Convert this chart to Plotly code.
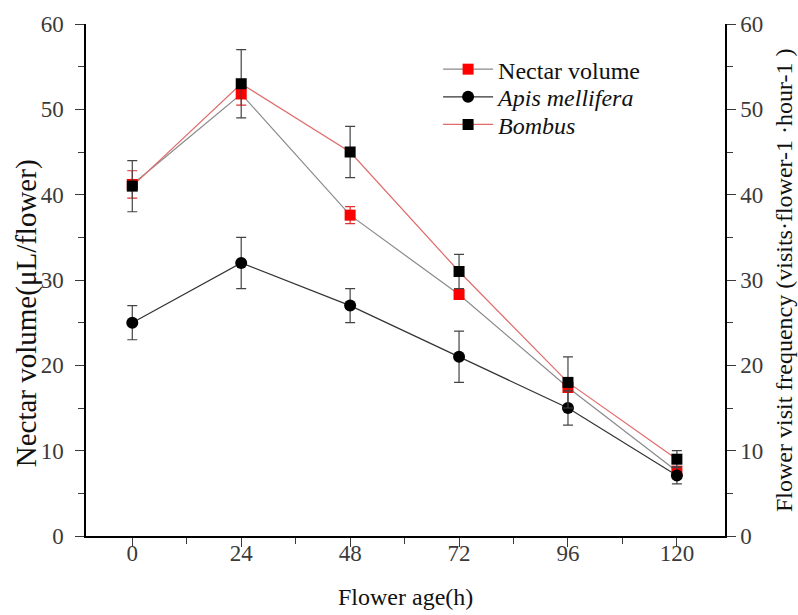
import plotly.graph_objects as go

flower_age = [0, 24, 48, 72, 96, 120]
nectar_volume = [41.2, 51.8, 37.6, 28.3, 17.4, 7.6]
nectar_err = [1.6, 1.3, 1.0, 0.5, 0.5, 0.5]
apis = [25, 32, 27, 21, 15, 7.1]
apis_err = [2, 3, 2, 3, 2, 1]
bombus = [41, 53, 45, 31, 18, 9]
bombus_err = [3, 4, 3, 2, 3, 1]

y_ticks = [0, 10, 20, 30, 40, 50, 60]
y_minor = [5, 15, 25, 35, 45, 55]
x_minor = [12, 36, 60, 84, 108]

font_family = "Liberation Serif, Times New Roman, serif"
tick_color = "#3a3a3a"

fig = go.Figure()
fig.add_trace(go.Scatter(
    x=flower_age, y=nectar_volume, name="Nectar volume", mode="lines+markers",
    line=dict(color="#8a8a8a", width=1.2),
    marker=dict(symbol="square", size=11, color="#ff0000"),
    error_y=dict(type="data", array=nectar_err, color="#e03030", thickness=1.2, width=5),
    yaxis="y", legend="legend",
))
fig.add_trace(go.Scatter(
    x=flower_age, y=apis, name="<i>Apis mellifera</i>", mode="lines+markers",
    line=dict(color="#333333", width=1.2),
    marker=dict(symbol="circle", size=12, color="#000000"),
    error_y=dict(type="data", array=apis_err, color="#444444", thickness=1.2, width=5),
    yaxis="y2", legend="legend2",
))
fig.add_trace(go.Scatter(
    x=flower_age, y=bombus, name="<i>Bombus</i>", mode="lines+markers",
    line=dict(color="#e06a6a", width=1.2),
    marker=dict(symbol="square", size=11, color="#000000"),
    error_y=dict(type="data", array=bombus_err, color="#444444", thickness=1.2, width=5),
    yaxis="y2", legend="legend3",
))

axis_common = dict(
    showgrid=False, zeroline=False, showline=True, linecolor="#000000", linewidth=1.5,
    ticks="outside", ticklen=9, tickwidth=1.3, tickcolor=tick_color,
    tickfont=dict(family=font_family, size=23, color=tick_color),
)
minor_common = dict(ticks="outside", ticklen=6, tickwidth=1.3, tickcolor=tick_color)

legend_common = dict(x=0.551, xanchor="left", yanchor="middle", bgcolor="rgba(0,0,0,0)",
                     font=dict(family=font_family, size=24, color="#111111"),
                     tracegroupgap=0, itemwidth=50)

fig.update_layout(
    width=798, height=615,
    margin=dict(l=86, r=73, t=19, b=79),
    plot_bgcolor="white", paper_bgcolor="white",
    font=dict(family=font_family, size=23, color="#111111"),
    showlegend=True,
    legend=dict(y=0.911, **legend_common),
    legend2=dict(y=0.857, **legend_common),
    legend3=dict(y=0.803, **legend_common),
    xaxis=dict(
        range=[-10.2, 130.6], tickvals=flower_age, ticktext=[str(v) for v in flower_age],
        minor=dict(tickvals=x_minor, **minor_common),
        ticklabelstandoff=-13,
        **axis_common,
    ),
    yaxis=dict(
        range=[0, 60], tickvals=y_ticks,
        minor=dict(tickvals=y_minor, **minor_common),
        ticklabelstandoff=7,
        **axis_common,
    ),
    yaxis2=dict(
        range=[0, 60], tickvals=y_ticks, overlaying="y", side="right",
        minor=dict(tickvals=y_minor, **minor_common),
        ticklabelstandoff=0,
        **axis_common,
    ),
    annotations=[
        dict(text="Flower age(h)", xref="paper", yref="paper", x=0.5, y=-0.12,
             xanchor="center", yanchor="middle", showarrow=False,
             font=dict(family=font_family, size=24, color="#111111")),
        dict(text="Nectar volume(μL/flower)", xref="paper", yref="paper", x=0, xshift=-60,
             y=0.435, xanchor="center", yanchor="middle", textangle=-90, showarrow=False,
             font=dict(family=font_family, size=29, color="#111111")),
        dict(text="Flower visit frequency (visits·flower-1 ·hour-1 )", xref="paper", yref="paper",
             x=1, xshift=59, y=0.5, xanchor="center", yanchor="middle", textangle=-90,
             showarrow=False, font=dict(family=font_family, size=24, color="#111111")),
    ],
)

fig.write_html("out.html")
